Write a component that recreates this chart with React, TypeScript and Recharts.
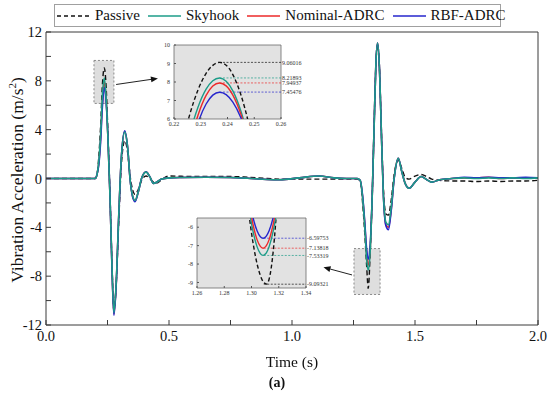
import React from "react";
import {
  LineChart,
  Line,
  XAxis,
  YAxis,
  Legend,
  ReferenceArea,
  ReferenceLine,
} from "recharts";

const FONT = '"Liberation Serif", "Times New Roman", serif';

// main trace, time in s, acceleration in m/s^2
const time = [
  0, 0.1, 0.2, 0.207, 0.215, 0.222, 0.229, 0.237, 0.245, 0.252, 0.26, 0.268, 0.276, 0.285, 0.295, 0.306,
  0.32, 0.332, 0.342, 0.352, 0.362, 0.375, 0.39, 0.407, 0.422, 0.437, 0.45, 0.47, 0.5, 0.55, 0.65, 0.75,
  0.82, 0.9, 0.95, 1.03, 1.11, 1.17, 1.22, 1.265, 1.277, 1.287, 1.296, 1.303, 1.31, 1.318, 1.326, 1.334,
  1.341, 1.348, 1.356, 1.364, 1.372, 1.382, 1.392, 1.403, 1.415, 1.432, 1.447, 1.46, 1.476, 1.5, 1.525,
  1.548, 1.568, 1.6, 1.65, 1.7, 1.75, 1.8, 1.85, 1.9, 1.95, 2.0,
];
const passive = [
  0, 0, 0, 0.3, 1.9, 4.3, 7.6, 9.06, 7.3, 3.6, -1.2, -6.8, -10.8, -8.8, -3.9, 1.0,
  3.1, 2.1, 0.2, -0.9, -1.3, -0.9, -0.1, 0.2, 0.0, -0.3, -0.38, -0.1, 0.2, 0.18, 0.16, 0.16,
  0.1, 0.0, -0.05, -0.05, -0.05, -0.05, -0.05, -0.05, -0.2, -2.0, -4.6, -7.0, -9.0, -6.0, -1.5, 4.5,
  9.3, 11.0, 8.8, 3.5, -1.0, -2.9, -3.0, -1.8, 0.3, 1.5, 0.8, 0.1, -0.05, 0.2, 0.33,
  0.15, -0.05, -0.15, -0.2, -0.2, -0.25, -0.2, -0.25, -0.2, -0.2, -0.15,
];
const skyhook = [
  0, 0, 0, 0.3, 1.5, 3.6, 6.7, 8.22, 6.4, 3.2, -1.4, -7.0, -11.0, -8.7, -3.4, 1.6,
  3.8, 2.5, -0.1, -1.4, -1.8, -1.1, 0.1, 0.52, 0.15, -0.4, -0.3, -0.05, 0.05, 0.08, 0.1, 0.08,
  0.02, -0.08, -0.1, 0.05, 0.2, 0.05, 0.0, 0.0, -0.15, -1.6, -4.0, -6.5, -7.5, -5.9, -1.5, 4.4,
  9.4, 11.1, 8.8, 3.3, -1.5, -3.6, -3.8, -2.4, 0.0, 1.65, 0.5, -0.4, -0.8, -0.3, 0.16,
  -0.1, -0.3, -0.1, 0.0, 0.05, 0.0, 0.05, 0.0, 0.05, 0.0, 0.05,
];
const nominalAdrc = [
  0, 0, 0, 0.3, 1.3, 3.3, 6.2, 7.95, 6.3, 3.2, -1.4, -7.1, -11.1, -8.8, -3.4, 1.6,
  3.85, 2.5, -0.1, -1.45, -1.85, -1.1, 0.1, 0.55, 0.15, -0.4, -0.3, -0.05, 0.05, 0.08, 0.1, 0.08,
  0.02, -0.08, -0.1, 0.05, 0.2, 0.05, 0.0, 0.0, -0.15, -1.5, -3.8, -6.1, -7.1, -5.7, -1.5, 4.4,
  9.4, 11.1, 8.8, 3.3, -1.5, -3.8, -4.0, -2.6, 0.0, 1.65, 0.5, -0.4, -0.8, -0.3, 0.16,
  -0.1, -0.3, -0.1, 0.0, 0.05, 0.05, 0.1, 0.0, 0.05, 0.05, 0.05,
];
const rbfAdrc = [
  0, 0, 0, 0.3, 1.2, 3.0, 5.8, 7.45, 6.1, 3.3, -1.3, -7.2, -11.2, -8.9, -3.5, 1.6,
  3.9, 2.5, -0.1, -1.5, -1.9, -1.1, 0.1, 0.55, 0.15, -0.4, -0.3, -0.05, 0.05, 0.08, 0.1, 0.08,
  0.02, -0.08, -0.1, 0.05, 0.2, 0.05, 0.0, 0.0, -0.15, -1.4, -3.6, -5.7, -6.6, -5.4, -1.5, 4.4,
  9.4, 11.1, 8.8, 3.3, -1.6, -3.9, -4.2, -2.7, -0.1, 1.66, 0.5, -0.4, -0.8, -0.3, 0.16,
  -0.1, -0.3, -0.1, 0.0, 0.1, 0.05, 0.1, 0.05, 0.05, 0.1, 0.05,
];

const xTicks = [0, 0.25, 0.5, 0.75, 1, 1.25, 1.5, 1.75, 2];
const yTicks = [-12, -10, -8, -6, -4, -2, 0, 2, 4, 6, 8, 10, 12];

// zoom on the first peak
const peakTime = [0.222, 0.226, 0.229, 0.232, 0.2345, 0.237, 0.2395, 0.242, 0.245, 0.248, 0.25];
const peakPassive = [3.98, 6.3, 7.58, 8.47, 8.9, 9.06, 8.91, 8.4, 7.31, 5.7, 4.33];
const peakSkyhook = [2.69, 5.24, 6.65, 7.61, 8.07, 8.22, 8.04, 7.52, 6.43, 4.83, 3.48];
const peakNominal = [1.88, 4.68, 6.22, 7.28, 7.78, 7.95, 7.79, 7.29, 6.26, 4.76, 3.49];
const peakRbf = [1.65, 4.33, 5.8, 6.81, 7.29, 7.45, 7.32, 6.91, 6.07, 4.84, 3.81];
const peakXTicks = [0.22, 0.23, 0.24, 0.25, 0.26];
const peakYTicks = [6, 7, 8, 9, 10];
const peakLabels = ["9.06016", "8.21893", "7.94937", "7.45476"];
const peakValues = [9.06016, 8.21893, 7.94937, 7.45476];

// zoom on the second valley
const valleyTime = [1.294, 1.298, 1.301, 1.304, 1.3065, 1.3085, 1.3105, 1.311, 1.313, 1.316, 1.319, 1.323];
const valleyPassive = [-2.44, -5.2, -6.79, -7.96, -8.62, -8.95, -9.08, -9.09, -8.8, -7.26, -4.4, 1.4];
const valleySkyhook = [-2.49, -4.88, -6.18, -7.04, -7.43, -7.53, -7.43, -7.38, -7.04, -6.18, -4.88, -2.49];
const valleyNominal = [-2.14, -4.52, -5.8, -6.66, -7.04, -7.14, -7.04, -6.99, -6.66, -5.8, -4.52, -2.14];
const valleyRbf = [-2.27, -4.33, -5.44, -6.18, -6.52, -6.6, -6.52, -6.47, -6.18, -5.44, -4.33, -2.27];
const valleyXTicks = [1.26, 1.28, 1.3, 1.32, 1.34];
const valleyYTicks = [-9, -8, -7, -6];
const valleyLabels = ["-6.59753", "-7.13818", "-7.53319", "-9.09321"];
const valleyValues = [-6.59753, -7.13818, -7.53319, -9.09321];

const COLORS = {
  passive: "#111111",
  skyhook: "#1c9c88",
  nominal: "#ec2a2a",
  rbf: "#2626cc",
};
const NAMES = {
  passive: "Passive",
  skyhook: "Skyhook",
  nominal: "Nominal-ADRC",
  rbf: "RBF-ADRC",
};
const legendOrder = ["passive", "skyhook", "nominal", "rbf"];
const peakRefOrder = ["passive", "skyhook", "nominal", "rbf"];
const valleyRefOrder = ["rbf", "nominal", "skyhook", "passive"];

const mainRows = time.map((t, i) => ({
  t,
  passive: passive[i],
  skyhook: skyhook[i],
  nominal: nominalAdrc[i],
  rbf: rbfAdrc[i],
}));
const peakRows = peakTime.map((t, i) => ({
  t,
  passive: peakPassive[i],
  skyhook: peakSkyhook[i],
  nominal: peakNominal[i],
  rbf: peakRbf[i],
}));
const valleyRows = valleyTime.map((t, i) => ({
  t,
  passive: valleyPassive[i],
  skyhook: valleySkyhook[i],
  nominal: valleyNominal[i],
  rbf: valleyRbf[i],
}));

const axisColor = "#3a3a3a";
const tickFont = { fontFamily: FONT, fontSize: 14.5, fill: "#111" };
const smallFont = { fontFamily: FONT, fontSize: 6, fill: "#333" };

function Arrow(props: any) {
  const { x1, y1, x2, y2 } = props;
  const ang = Math.atan2(y2 - y1, x2 - x1);
  const len = 7;
  const w = 3;
  const bx = x2 - len * Math.cos(ang);
  const by = y2 - len * Math.sin(ang);
  const px = -Math.sin(ang) * w;
  const py = Math.cos(ang) * w;
  return (
    <g>
      <line x1={x1} y1={y1} x2={bx} y2={by} stroke="#222" strokeWidth={1} />
      <polygon points={`${x2},${y2} ${bx + px},${by + py} ${bx - px},${by - py}`} fill="#111" />
    </g>
  );
}

function LegendBox({ payload }: any) {
  const items = [...(payload || [])].sort(
    (a: any, b: any) => legendOrder.indexOf(a.dataKey) - legendOrder.indexOf(b.dataKey)
  );
  return (
    <div
      style={{
        display: "flex",
        alignItems: "center",
        boxSizing: "border-box",
        height: 23,
        width: 447,
        padding: "0 2px",
        border: "1px solid #a0a0a0",
        background: "#fff",
        fontFamily: FONT,
        fontSize: 15,
        color: "#111",
        whiteSpace: "nowrap",
      }}
    >
      {items.map((it: any) => (
        <span key={it.dataKey} style={{ display: "flex", alignItems: "center", marginRight: 8, flexShrink: 0 }}>
          <svg width={33} height={10}>
            <line
              x1={0}
              y1={5}
              x2={33}
              y2={5}
              stroke={it.color}
              strokeWidth={1.3}
              strokeDasharray={it.dataKey === "passive" ? "4 3" : undefined}
            />
          </svg>
          <span style={{ marginLeft: 5 }}>{it.value}</span>
        </span>
      ))}
    </div>
  );
}

function ZoomPanel(props: any) {
  const { rows, xDomain, yDomain, xTicks: xt, yTicks: yt, labels, values, refOrder, peakAt, width, height, margin } = props;
  return (
    <LineChart width={width} height={height} data={rows} margin={margin}>
      <ReferenceArea
        x1={xDomain[0]}
        x2={xDomain[1]}
        y1={yDomain[0]}
        y2={yDomain[1]}
        fill="#e2e2e2"
        fillOpacity={1}
        stroke="#6a6a6a"
        strokeWidth={0.8}
        ifOverflow="visible"
      />
      <XAxis
        dataKey="t"
        type="number"
        domain={xDomain}
        ticks={xt}
        interval={0}
        allowDataOverflow
        height={1}
        tickSize={-2}
        tickMargin={5}
        tickFormatter={(v: number) => v.toFixed(2)}
        tick={smallFont}
        axisLine={false}
        tickLine={{ stroke: "#555" }}
      />
      <YAxis
        type="number"
        domain={yDomain}
        ticks={yt}
        interval={0}
        allowDataOverflow
        width={1}
        tickSize={-2}
        tickMargin={6}
        tick={smallFont}
        axisLine={false}
        tickLine={{ stroke: "#555" }}
      />
      {refOrder.map((key: string, i: number) => (
        <ReferenceLine
          key={key}
          segment={[
            { x: peakAt, y: values[i] },
            { x: xDomain[1], y: values[i] },
          ]}
          stroke={COLORS[key as keyof typeof COLORS]}
          strokeDasharray="2 1.5"
          strokeWidth={0.7}
          ifOverflow="visible"
          label={{ value: labels[i], position: "right", offset: 1, style: smallFont }}
        />
      ))}
      <Line type="monotone" dataKey="passive" stroke={COLORS.passive} strokeWidth={1.4} strokeDasharray="4 2.5" dot={false} isAnimationActive={false} />
      <Line type="monotone" dataKey="skyhook" stroke={COLORS.skyhook} strokeWidth={1.4} dot={false} isAnimationActive={false} />
      <Line type="monotone" dataKey="nominal" stroke={COLORS.nominal} strokeWidth={1.4} dot={false} isAnimationActive={false} />
      <Line type="monotone" dataKey="rbf" stroke={COLORS.rbf} strokeWidth={1.4} dot={false} isAnimationActive={false} />
    </LineChart>
  );
}

export default function App() {
  return (
    <div style={{ position: "fixed", left: 0, top: 0, width: 550, height: 394, background: "#fff", fontFamily: FONT }}>
      <LineChart width={550} height={394} data={mainRows} margin={{ top: 31, right: 11, bottom: 39, left: 45 }}>
        <XAxis
          dataKey="t"
          type="number"
          domain={[0, 2]}
          ticks={xTicks}
          interval={0}
          height={30}
          tickSize={-5}
          tickMargin={11}
          tickFormatter={(v: number) => (v % 0.5 === 0 ? v.toFixed(1) : "")}
          tick={tickFont}
          axisLine={{ stroke: axisColor }}
          tickLine={{ stroke: axisColor }}
        />
        <XAxis
          xAxisId="top"
          dataKey="t"
          type="number"
          orientation="top"
          domain={[0, 2]}
          ticks={xTicks}
          interval={0}
          height={1}
          tickSize={-5}
          tick={false}
          axisLine={{ stroke: axisColor }}
          tickLine={{ stroke: axisColor }}
        />
        <YAxis
          type="number"
          domain={[-12, 12]}
          ticks={yTicks}
          interval={0}
          width={1}
          tickSize={-5}
          tickMargin={9}
          tickFormatter={(v: number) => (v % 4 === 0 ? String(v) : "")}
          tick={tickFont}
          axisLine={{ stroke: axisColor }}
          tickLine={{ stroke: axisColor }}
        />
        <YAxis
          yAxisId="right"
          orientation="right"
          type="number"
          domain={[-12, 12]}
          ticks={yTicks}
          interval={0}
          width={1}
          tickSize={-5}
          tick={false}
          axisLine={{ stroke: axisColor }}
          tickLine={{ stroke: axisColor }}
        />
        <Legend
          layout="horizontal"
          verticalAlign="middle"
          align="center"
          wrapperStyle={{ top: 4, left: 54, width: 447, height: 23 }}
          content={<LegendBox />}
        />
        <ReferenceArea x1={0.195} x2={0.276} y1={6.15} y2={9.67} fill="#dedede" fillOpacity={1} stroke="#8a8a8a" strokeDasharray="2 2" />
        <ReferenceArea x1={1.252} x2={1.358} y1={-9.5} y2={-5.74} fill="#dedede" fillOpacity={1} stroke="#8a8a8a" strokeDasharray="2 2" />
        <Line type="monotone" dataKey="passive" name={NAMES.passive} stroke={COLORS.passive} strokeWidth={1.4} strokeDasharray="5 3" dot={false} isAnimationActive={false} />
        <Line type="monotone" dataKey="nominal" name={NAMES.nominal} stroke={COLORS.nominal} strokeWidth={1.6} dot={false} isAnimationActive={false} />
        <Line type="monotone" dataKey="rbf" name={NAMES.rbf} stroke={COLORS.rbf} strokeWidth={1.6} dot={false} isAnimationActive={false} />
        <Line type="monotone" dataKey="skyhook" name={NAMES.skyhook} stroke={COLORS.skyhook} strokeWidth={1.6} dot={false} isAnimationActive={false} />
        <ReferenceLine
          segment={[
            { x: 0.285, y: 7.7 },
            { x: 0.455, y: 8.2 },
          ]}
          ifOverflow="visible"
          shape={<Arrow />}
        />
        <ReferenceLine
          segment={[
            { x: 1.244, y: -7.9 },
            { x: 1.128, y: -7.27 },
          ]}
          ifOverflow="visible"
          shape={<Arrow />}
        />
      </LineChart>

      <div style={{ position: "absolute", left: 150, top: 38 }}>
        <ZoomPanel
          rows={peakRows}
          xDomain={[0.22, 0.26]}
          yDomain={[6, 10]}
          xTicks={peakXTicks}
          yTicks={peakYTicks}
          labels={peakLabels}
          values={peakValues}
          refOrder={peakRefOrder}
          peakAt={0.237}
          width={170}
          height={92}
          margin={{ top: 7, right: 39, bottom: 10, left: 23 }}
        />
      </div>
      <div style={{ position: "absolute", left: 172, top: 212 }}>
        <ZoomPanel
          rows={valleyRows}
          xDomain={[1.26, 1.34]}
          yDomain={[-9.3, -5.5]}
          xTicks={valleyXTicks}
          yTicks={valleyYTicks}
          labels={valleyLabels}
          values={valleyValues}
          refOrder={valleyRefOrder}
          peakAt={1.309}
          width={170}
          height={92}
          margin={{ top: 6, right: 36, bottom: 15, left: 24 }}
        />
      </div>

      <div
        style={{
          position: "absolute",
          left: 17,
          top: 180,
          transform: "translate(-50%, -50%) rotate(-90deg)",
          whiteSpace: "nowrap",
          fontSize: 17.5,
          color: "#111",
        }}
      >
        Vibration Acceleration (m/s<sup style={{ fontSize: 11 }}>2</sup>)
      </div>
      <div style={{ position: "absolute", left: 0, width: 584, top: 353, textAlign: "center", fontSize: 15.5, color: "#111" }}>
        Time (s)
      </div>
      <div style={{ position: "absolute", left: 0, width: 554, top: 375, textAlign: "center", fontSize: 14, fontWeight: "bold", color: "#111" }}>
        (a)
      </div>
    </div>
  );
}
